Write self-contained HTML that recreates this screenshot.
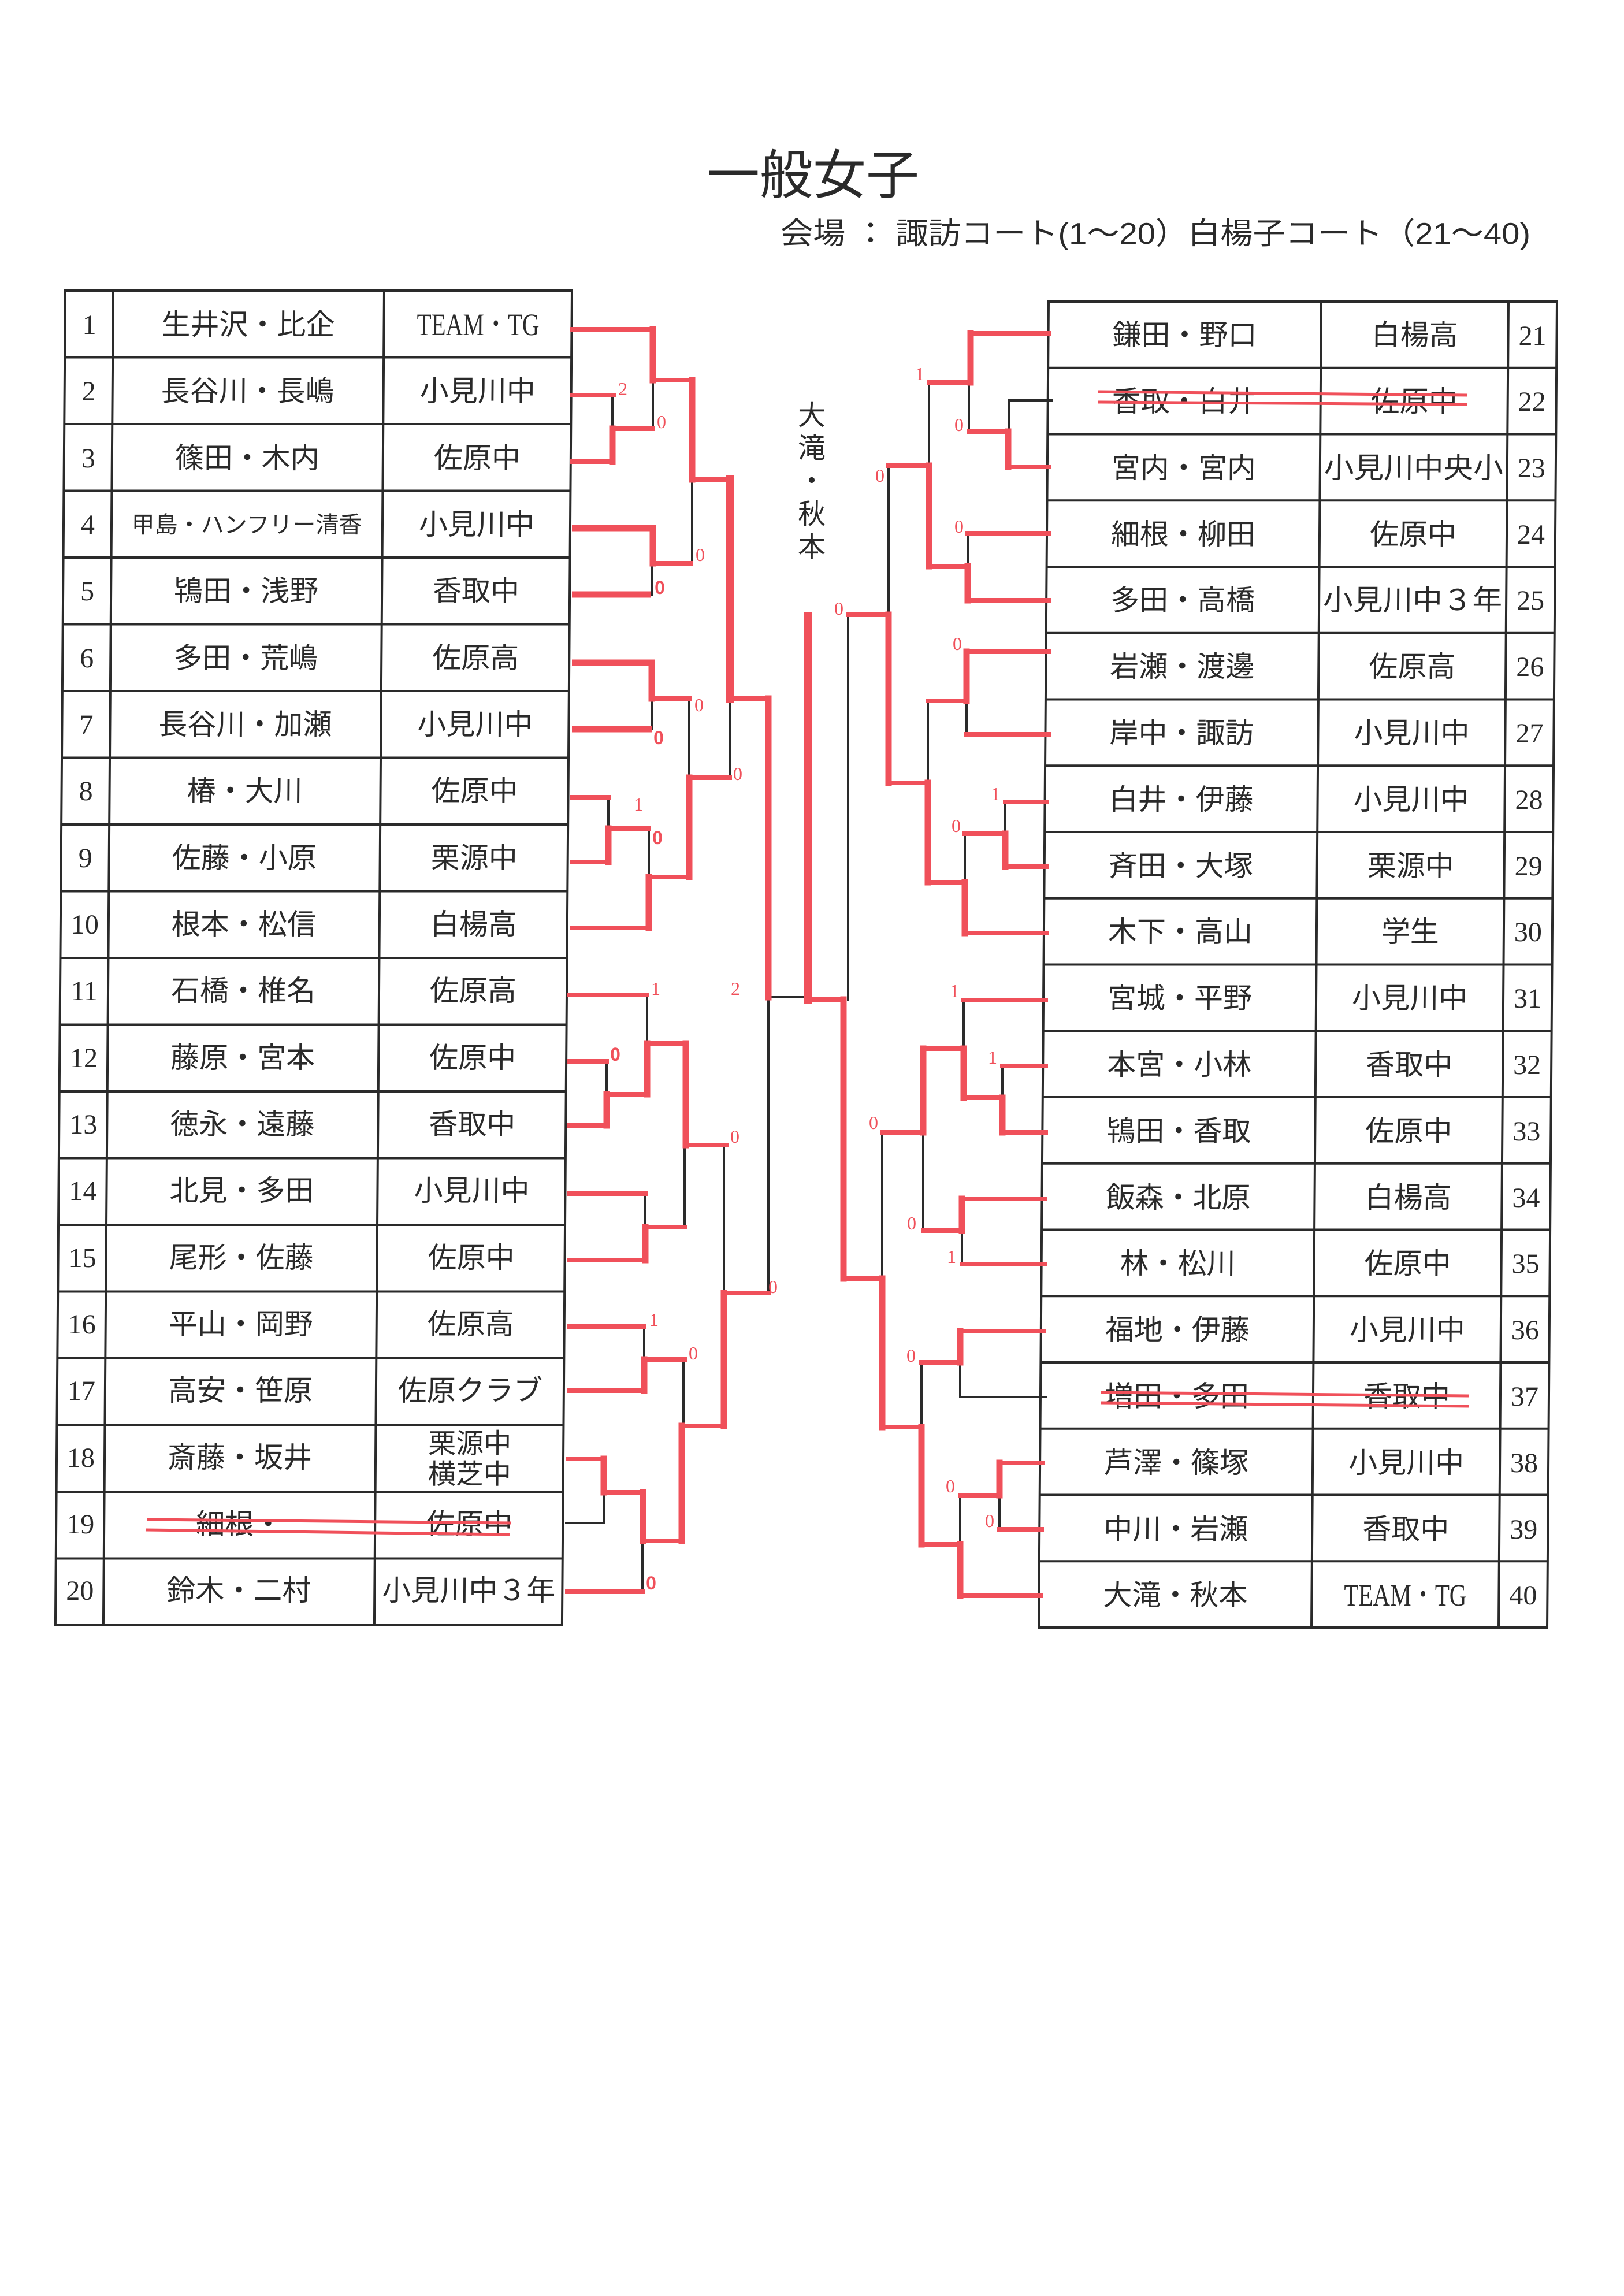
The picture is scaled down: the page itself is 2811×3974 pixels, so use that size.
<!DOCTYPE html>
<html><head><meta charset="utf-8">
<style>
html,body{margin:0;padding:0;background:#fff;}
svg{display:block;}
.j{font-family:"Liberation Sans","Noto Sans CJK JP",sans-serif;fill:#2a2a2a;}
.n{font-family:"Liberation Serif","Noto Serif CJK SC",serif;fill:#2a2a2a;}
.s{font-family:"Liberation Serif",serif;fill:#f0505a;font-size:32px;text-anchor:middle;}
.b{font-weight:bold;font-family:"Liberation Sans",sans-serif;}
</style></head>
<body>
<svg width="2811" height="3974" viewBox="0 0 2811 3974" xmlns="http://www.w3.org/2000/svg">
<rect width="2811" height="3974" fill="#fff"/>
<text x="1407" y="335" font-size="92" text-anchor="middle" class="j" fill="#222">一般女子</text>
<text x="1351" y="422" font-size="52" class="j" textLength="1298" lengthAdjust="spacingAndGlyphs">会場 ： 諏訪コート(1～20）白楊子コート（21～40)</text>
<g class="j" font-size="48" text-anchor="middle">
<text x="1405" y="735">大</text><text x="1405" y="792">滝</text><text x="1405" y="849">・</text><text x="1405" y="906">秋</text><text x="1405" y="963">本</text>
</g>

<g transform="matrix(1,0,-0.0074,1,3.72,0)">
<g stroke="#2a2a2a" stroke-width="4" fill="none">
<rect x="113" y="503" width="877" height="2310"/>
<path d="M196 503V2813M665 503V2813"/>
<path d="M113 618.5H990M113 734H990M113 849.5H990M113 965H990M113 1080.5H990M113 1196H990M113 1311.5H990M113 1427H990M113 1542.5H990M113 1658H990M113 1773.5H990M113 1889H990M113 2004.5H990M113 2120H990M113 2235.5H990M113 2351H990M113 2466.5H990M113 2582H990M113 2697.5H990"/>
</g>
<g class="n" font-size="48" text-anchor="middle">
<text x="155" y="578">1</text><text x="155" y="693">2</text><text x="155" y="809">3</text><text x="155" y="924">4</text><text x="155" y="1039">5</text><text x="155" y="1155">6</text><text x="155" y="1270">7</text><text x="155" y="1385">8</text><text x="155" y="1501">9</text><text x="155" y="1616">10</text><text x="155" y="1731">11</text><text x="155" y="1847">12</text><text x="155" y="1962">13</text><text x="155" y="2077">14</text><text x="155" y="2193">15</text><text x="155" y="2308">16</text><text x="155" y="2423">17</text><text x="155" y="2539">18</text><text x="155" y="2654">19</text><text x="155" y="2769">20</text>
</g>
<g class="j" font-size="50" text-anchor="middle">
<text x="430" y="579">生井沢・比企</text>
<text x="430" y="694">長谷川・長嶋</text>
<text x="430" y="810">篠田・木内</text>
<text x="430" y="922" font-size="40">甲島・ハンフリー清香</text>
<text x="430" y="1040">鴇田・浅野</text>
<text x="430" y="1156">多田・荒嶋</text>
<text x="430" y="1271">長谷川・加瀬</text>
<text x="430" y="1386">椿・大川</text>
<text x="430" y="1502">佐藤・小原</text>
<text x="430" y="1617">根本・松信</text>
<text x="430" y="1732">石橋・椎名</text>
<text x="430" y="1848">藤原・宮本</text>
<text x="430" y="1963">徳永・遠藤</text>
<text x="430" y="2078">北見・多田</text>
<text x="430" y="2194">尾形・佐藤</text>
<text x="430" y="2309">平山・岡野</text>
<text x="430" y="2424">高安・笹原</text>
<text x="430" y="2540">斎藤・坂井</text>
<text x="430" y="2655">細根・</text>
<text x="430" y="2770">鈴木・二村</text>
<text x="828" y="580" class="n" font-size="54" textLength="212" lengthAdjust="spacingAndGlyphs">TEAM・TG</text>
<text x="828" y="694">小見川中</text>
<text x="828" y="810">佐原中</text>
<text x="828" y="925">小見川中</text>
<text x="828" y="1040">香取中</text>
<text x="828" y="1156">佐原高</text>
<text x="828" y="1271">小見川中</text>
<text x="828" y="1386">佐原中</text>
<text x="828" y="1502">栗源中</text>
<text x="828" y="1617">白楊高</text>
<text x="828" y="1732">佐原高</text>
<text x="828" y="1848">佐原中</text>
<text x="828" y="1963">香取中</text>
<text x="828" y="2078">小見川中</text>
<text x="828" y="2194">佐原中</text>
<text x="828" y="2309">佐原高</text>
<text x="828" y="2424">佐原クラブ</text>
<text x="828" y="2515" font-size="48">栗源中</text>
<text x="828" y="2568" font-size="48">横芝中</text>
<text x="828" y="2655">佐原中</text>
<text x="828" y="2770">小見川中３年</text>
</g>
</g>

<g transform="matrix(1,0,-0.0074,1,3.86,0)">
<g stroke="#2a2a2a" stroke-width="4" fill="none">
<rect x="1815" y="522" width="880" height="2295"/>
<path d="M2287 522V2817M2611 522V2817"/>
<path d="M1815 636.75H2695M1815 751.5H2695M1815 866.25H2695M1815 981H2695M1815 1095.75H2695M1815 1210.5H2695M1815 1325.25H2695M1815 1440H2695M1815 1554.75H2695M1815 1669.5H2695M1815 1784.25H2695M1815 1899H2695M1815 2013.75H2695M1815 2128.5H2695M1815 2243.25H2695M1815 2358H2695M1815 2472.75H2695M1815 2587.5H2695M1815 2702.25H2695"/>
</g>
<g class="n" font-size="48" text-anchor="middle">
<text x="2653" y="597">21</text><text x="2653" y="711">22</text><text x="2653" y="826">23</text><text x="2653" y="941">24</text><text x="2653" y="1055">25</text><text x="2653" y="1170">26</text><text x="2653" y="1285">27</text><text x="2653" y="1400">28</text><text x="2653" y="1515">29</text><text x="2653" y="1629">30</text><text x="2653" y="1744">31</text><text x="2653" y="1859">32</text><text x="2653" y="1974">33</text><text x="2653" y="2089">34</text><text x="2653" y="2203">35</text><text x="2653" y="2318">36</text><text x="2653" y="2433">37</text><text x="2653" y="2548">38</text><text x="2653" y="2663">39</text><text x="2653" y="2777">40</text>
</g>
<g class="j" font-size="50" text-anchor="middle">
<text x="2051" y="597">鎌田・野口</text>
<text x="2051" y="712">香取・白井</text>
<text x="2051" y="827">宮内・宮内</text>
<text x="2051" y="942">細根・柳田</text>
<text x="2051" y="1056">多田・高橋</text>
<text x="2051" y="1171">岩瀬・渡邊</text>
<text x="2051" y="1286">岸中・諏訪</text>
<text x="2051" y="1401">白井・伊藤</text>
<text x="2051" y="1516">斉田・大塚</text>
<text x="2051" y="1630">木下・高山</text>
<text x="2051" y="1745">宮城・平野</text>
<text x="2051" y="1860">本宮・小林</text>
<text x="2051" y="1975">鴇田・香取</text>
<text x="2051" y="2090">飯森・北原</text>
<text x="2051" y="2204">林・松川</text>
<text x="2051" y="2319">福地・伊藤</text>
<text x="2051" y="2434">増田・多田</text>
<text x="2051" y="2549">芦澤・篠塚</text>
<text x="2051" y="2664">中川・岩瀬</text>
<text x="2051" y="2778">大滝・秋本</text>
<text x="2449" y="597">白楊高</text>
<text x="2449" y="712">佐原中</text>
<text x="2449" y="827" textLength="310" lengthAdjust="spacingAndGlyphs">小見川中央小</text>
<text x="2449" y="942">佐原中</text>
<text x="2449" y="1056" textLength="310" lengthAdjust="spacingAndGlyphs">小見川中３年</text>
<text x="2449" y="1171">佐原高</text>
<text x="2449" y="1286">小見川中</text>
<text x="2449" y="1401">小見川中</text>
<text x="2449" y="1516">栗源中</text>
<text x="2449" y="1630">学生</text>
<text x="2449" y="1745">小見川中</text>
<text x="2449" y="1860">香取中</text>
<text x="2449" y="1975">佐原中</text>
<text x="2449" y="2090">白楊高</text>
<text x="2449" y="2204">佐原中</text>
<text x="2449" y="2319">小見川中</text>
<text x="2449" y="2434">香取中</text>
<text x="2449" y="2549">小見川中</text>
<text x="2449" y="2664">香取中</text>
<text x="2449" y="2779" class="n" font-size="54" textLength="212" lengthAdjust="spacingAndGlyphs">TEAM・TG</text>
</g>
</g>

<g stroke="#f0505a" stroke-width="5" fill="none">
<path d="M255 2630L885 2636M252 2648L882 2656"/>
<path d="M1901 678L2540 684M1901 696L2540 700"/>
<path d="M1906 2410L2543 2416M1906 2428L2543 2434"/>
</g>

<g stroke="#2a2a2a" stroke-width="4" fill="none" stroke-linecap="square">
<path d="M1060 684V742M1130 658V742M1128 975V1029M1198 830V975M1128 1209V1262M1053 1380V1434M1123 1434V1518M1193 1209V1346M1263 1209V1346M1330 1726H1398"/>
<path d="M1330 1726V2238M1120 1722V1806M1050 1837V1894M1117 2066V2124M1185 1982V2124M1253 1982V2238M1115 2296V2353M1183 2353V2468M980 2636H1045M1045 2583V2636M1112 2667V2755"/>
<path d="M1820 693H1747M1747 693V747M1677 662V747M1608 662V806M1675 923V980M1538 806V1064M1673 1213V1271M1606 1213V1355M1740 1388V1443M1670 1443V1527M1468 1064V1730"/>
<path d="M1668 1731V1815M1735 1845V1900M1527 1960V2213M1598 1960V2130M1665 2130V2188M1810 2418H1662M1662 2358V2418M1595 2358V2470M1730 2588V2647M1662 2588V2673"/>
</g>
<g stroke="#f0505a" stroke-width="8" fill="none" stroke-linecap="square">
<path d="M990 570H1130M1130 658H1198M990 684H1062M990 799H1060M1060 742H1130M1130 975H1195M1128 1209H1193M990 1380H1053M990 1492H1053M1053 1434H1123M990 1606H1123M1123 1518H1193M1193 1346H1263M1263 1209H1330M1198 830H1263"/>
<path d="M985 1722H1120M985 1837H1050M985 1948H1050M1050 1894H1120M1120 1806H1187M1187 1982H1257M985 2066H1117M985 2181H1117M1117 2124H1185M1253 2238H1330M985 2296H1115M985 2407H1115M1115 2353H1185M1180 2468H1253M983 2525H1045M1045 2583H1113M1113 2667H1180M982 2755H1112"/>
<path d="M1398 1730H1460"/>
<path d="M1815 577H1680M1680 662H1608M1815 808H1745M1745 747H1677M1608 806H1538M1815 923H1675M1815 1039H1675M1675 980H1606M1538 1064H1468M1815 1128H1673M1673 1213H1606M1815 1271H1673M1606 1355H1538M1606 1527H1670M1812 1388H1740M1812 1500H1740M1740 1443H1670M1812 1615H1670"/>
<path d="M1810 1731H1668M1810 1845H1735M1810 1960H1735M1735 1900H1668M1668 1815H1598M1598 1960H1527M1808 2075H1665M1665 2130H1598M1808 2188H1665M1806 2304H1662M1662 2358H1595M1595 2470H1527M1460 2213H1527M1804 2532H1730M1730 2588H1662M1803 2647H1730M1662 2673H1595M1802 2762H1662"/>
</g>
<g stroke="#f0505a" stroke-width="11" fill="none">
<path d="M990 914H1130M990 1029H1127M990 1147H1128M990 1262H1128"/>
</g>
<g stroke="#f0505a" stroke-width="11" fill="none" stroke-linecap="square">
<path d="M1130 570V658M1060 742V799M1130 914V975M1198 658V830M1128 1147V1209M1053 1434V1492M1123 1518V1606M1193 1346V1518M1330 1209V1726"/>
<path d="M1050 1894V1948M1120 1806V1894M1187 1806V1982M1117 2124V2181M1253 2238V2468M1115 2353V2407M1045 2525V2583M1113 2583V2667M1180 2468V2667"/>
<path d="M1680 577V662M1745 747V808M1608 806V980M1675 980V1039M1538 1064V1355M1673 1128V1213M1606 1355V1527M1740 1443V1500M1670 1527V1615"/>
<path d="M1460 1730V2213M1527 2213V2470M1735 1900V1960M1668 1815V1900M1598 1815V1960M1665 2075V2130M1662 2304V2358M1595 2470V2673M1730 2532V2588M1662 2673V2762"/>
</g>
<g stroke="#f0505a" stroke-width="14" fill="none" stroke-linecap="square">
<path d="M1263 830V1209M1398 1067V1730"/>
</g>

<g class="s">
<text x="1078" y="684">2</text><text x="1145" y="741">0</text><text x="1142" y="1028" class="b">0</text><text x="1212" y="971">0</text><text x="1210" y="1231">0</text><text x="1140" y="1288" class="b">0</text><text x="1105" y="1403">1</text><text x="1138" y="1461" class="b">0</text><text x="1277" y="1350">0</text><text x="1273" y="1722">2</text><text x="1135" y="1722">1</text><text x="1065" y="1836" class="b">0</text><text x="1272" y="1978">0</text><text x="1338" y="2238">0</text><text x="1132" y="2295">1</text><text x="1200" y="2353">0</text><text x="1127" y="2751" class="b">0</text>
<text x="1592" y="658">1</text><text x="1660" y="746">0</text><text x="1523" y="834">0</text><text x="1660" y="922">0</text><text x="1452" y="1064">0</text><text x="1657" y="1125">0</text><text x="1723" y="1385">1</text><text x="1655" y="1440">0</text><text x="1652" y="1726">1</text><text x="1718" y="1841">1</text><text x="1512" y="1954">0</text><text x="1578" y="2128">0</text><text x="1647" y="2186">1</text><text x="1577" y="2357">0</text><text x="1645" y="2583">0</text><text x="1713" y="2643">0</text>
</g>
</svg>
</body></html>
